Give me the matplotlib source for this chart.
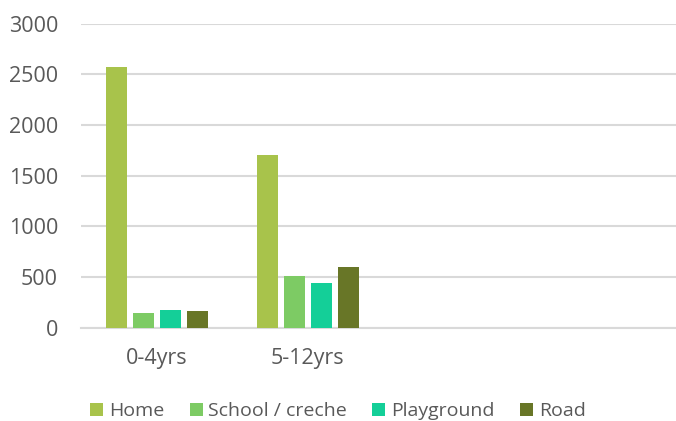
import numpy as np
import matplotlib.pyplot as plt
from matplotlib.patches import Patch

# data
categories = ['0-4yrs', '5-12yrs', '', '']
series = ['Home', 'School / creche', 'Playground', 'Road']
home = [2575, 1700, 0, 0]
school = [143, 508, 0, 0]
playground = [173, 436, 0, 0]
road = [160, 600, 0, 0]
colors = ['#A8C34B', '#7DCB64', '#14CF98', '#687627']

plt.rcParams['font.family'] = ['Open Sans', 'DejaVu Sans']
txt = '#595959'
grid = '#D9D9D9'

W, H = 676, 421
fig = plt.figure(figsize=(W / 100, H / 100), dpi=100)
# plot area runs past the right edge, as in the cropped original
ax = fig.add_axes([81 / W, 1 - 327.5 / H, 604 / W, (327.5 - 23.5) / H])

x = np.arange(len(categories))
bw = 21 / 151
step = 27 / 151
values = [home, school, playground, road]
for i, (vals, c) in enumerate(zip(values, colors)):
    off = (i - 1.5) * step
    ax.bar(x[:2] + off, vals[:2], width=bw, color=c, zorder=3)

ax.set_xlim(-0.5, len(categories) - 0.5)
ax.set_ylim(0, 3000)
ax.set_yticks(range(0, 3001, 500))
ax.set_xticks(x)
ax.set_xticklabels(categories)
ax.yaxis.grid(True, color=grid, linewidth=1.5, zorder=0)
for s in ['top', 'right', 'left']:
    ax.spines[s].set_visible(False)
ax.spines['bottom'].set_color(grid)
ax.spines['bottom'].set_linewidth(1.5)
ax.tick_params(axis='both', length=0, colors=txt, labelsize=15.5)
ax.tick_params(axis='y', pad=16.5)
ax.tick_params(axis='x', pad=15)

handles = [Patch(facecolor=c, label=s) for s, c in zip(series, colors)]
fig.legend(handles=handles, loc='center', bbox_to_anchor=(0.5, 1 - 411 / H),
           ncol=4, frameon=False, fontsize=14, labelcolor=txt,
           handlelength=0.67, handleheight=0.67, handletextpad=0.3,
           columnspacing=1.3, borderpad=0)

fig.savefig('out.png', dpi=100)
